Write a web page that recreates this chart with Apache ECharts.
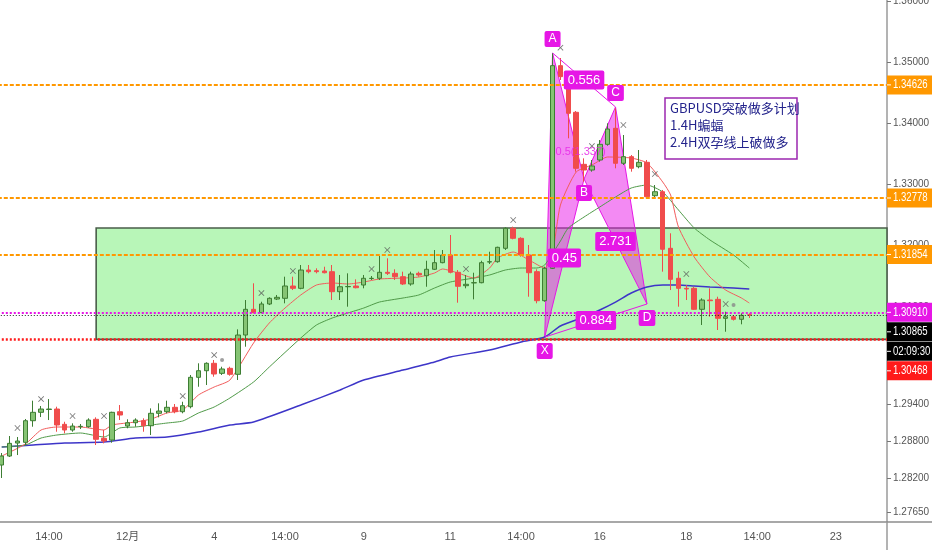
<!DOCTYPE html>
<html>
<head>
<meta charset="utf-8">
<title>GBPUSD 4H</title>
<script src="https://cdn.jsdelivr.net/npm/echarts/dist/echarts.min.js"></script>
<style>
html, body { margin: 0; padding: 0; background: #fff; }
#main { width: 932px; height: 550px; }
</style>
</head>
<body>
<div id="main"></div>
<script>
// 时间轴标签（按K线序号）
var timeTickIdx = [6, 16, 27, 36, 46, 57, 66, 76, 87, 96, 106];
var timeTickText = ['14:00', '12月', '4', '14:00', '9', '11', '14:00', '16', '18', '14:00', '23'];
var barSlots = 113;

// K线 开 收 低 高
var opens = [1.28415,1.28562,1.28774,1.28786,1.29139,1.29276,1.29322,1.29330,1.29080,1.28987,
  1.29041,1.29041,1.29162,1.28851,1.28823,1.29286,1.29052,1.29106,1.29139,1.29057,
  1.29260,1.29286,1.29358,1.29286,1.29368,1.29848,1.29956,1.30077,1.29913,1.29995,
  1.29897,1.30539,1.30959,1.30904,1.31046,1.31127,1.31139,1.31340,1.31302,1.31601,
  1.31590,1.31585,1.31574,1.31247,1.31328,1.31340,1.31356,1.31462,1.31466,1.31564,
  1.31547,1.31492,1.31373,1.31547,1.31508,1.31613,1.31721,1.31846,1.31564,1.31345,
  1.31391,1.31394,1.31732,1.31737,1.31956,1.32283,1.32119,1.31846,1.31574,1.31100,
  1.31629,1.34940,1.34788,1.34178,1.33328,1.33235,1.33399,1.33655,1.33917,1.33345,
  1.33453,1.33289,1.33361,1.32815,1.32881,1.31956,1.31466,1.31302,1.31302,1.30959,
  1.31111,1.31122,1.30812,1.30838,1.30796,1.30870];
var closes = [1.28562,1.28769,1.28807,1.29139,1.29276,1.29330,1.29330,1.29069,1.28987,1.29052,
  1.29047,1.29150,1.28835,1.28807,1.29276,1.29232,1.29106,1.29150,1.29057,1.29260,
  1.29297,1.29358,1.29286,1.29384,1.29848,1.29956,1.30077,1.29902,1.29984,1.29897,
  1.30539,1.30959,1.30904,1.31046,1.31139,1.31155,1.31340,1.31302,1.31601,1.31574,
  1.31574,1.31557,1.31247,1.31328,1.31332,1.31312,1.31466,1.31466,1.31564,1.31547,
  1.31492,1.31373,1.31536,1.31520,1.31613,1.31721,1.31846,1.31564,1.31335,1.31368,
  1.31394,1.31721,1.31737,1.31972,1.32283,1.32119,1.31846,1.31557,1.31100,1.31629,
  1.34940,1.34760,1.34162,1.33263,1.33235,1.33301,1.33655,1.33905,1.33345,1.33453,
  1.33263,1.33361,1.32799,1.32881,1.31940,1.31449,1.31302,1.31291,1.30959,1.31111,
  1.31100,1.30812,1.30838,1.30796,1.30861,1.30865];
var lows = [1.28203,1.28546,1.28578,1.28742,1.29041,1.29199,1.29150,1.28959,1.28933,1.28959,
  1.29003,1.29024,1.28742,1.28769,1.28779,1.29150,1.29015,1.29041,1.28959,1.28905,
  1.29194,1.29260,1.29260,1.29260,1.29341,1.29694,1.29722,1.29858,1.29886,1.29874,
  1.29804,1.30348,1.30894,1.30894,1.31029,1.31111,1.31057,1.31274,1.31286,1.31547,
  1.31547,1.31547,1.31111,1.31111,1.31002,1.31302,1.31302,1.31438,1.31438,1.31520,
  1.31438,1.31356,1.31345,1.31492,1.31328,1.31601,1.31711,1.31547,1.31067,1.31302,
  1.31122,1.31384,1.31699,1.31721,1.31928,1.32103,1.31819,1.31165,1.31057,1.31083,
  1.31618,1.34706,1.33753,1.33208,1.33044,1.33208,1.33371,1.33632,1.33263,1.33317,
  1.33208,1.33263,1.32773,1.32773,1.31574,1.31274,1.31002,1.31111,1.30948,1.30703,
  1.30838,1.30621,1.30593,1.30776,1.30714,1.30817];
var highs = [1.28611,1.28889,1.28873,1.29167,1.29466,1.29379,1.29493,1.29368,1.29122,1.29096,
  1.29085,1.29178,1.29194,1.28987,1.29286,1.29395,1.29162,1.29178,1.29178,1.29341,
  1.29423,1.29466,1.29412,1.29449,1.29886,1.30077,1.30093,1.30131,1.30021,1.30021,
  1.30632,1.31111,1.31384,1.31083,1.31155,1.31193,1.31492,1.31492,1.31683,1.31683,
  1.31629,1.31655,1.31683,1.31520,1.31547,1.31449,1.31520,1.31503,1.31830,1.31792,
  1.31613,1.31574,1.31574,1.31574,1.31753,1.31928,1.31928,1.32173,1.31601,1.31520,
  1.31557,1.31753,1.31900,1.31982,1.32299,1.32309,1.32136,1.32010,1.31613,1.31655,
  1.35142,1.35065,1.34815,1.34199,1.33426,1.33399,1.33725,1.33998,1.34243,1.33807,
  1.33480,1.33562,1.33399,1.32990,1.32909,1.32201,1.31574,1.31356,1.31328,1.31139,
  1.31302,1.31165,1.30920,1.30866,1.30894,1.30894];

// 均线（从图上读取的点：[序号, 价格]）
var fastMa = [[0,1.28562],[3,1.28758],[5,1.28987],[7,1.29036],[10,1.29036],[13,1.28987],[14,1.29069],
  [17,1.29118],[19,1.29167],[21,1.29265],[23,1.29314],[25,1.29559],[27,1.29690],[29,1.29804],
  [32,1.30408],[34,1.30735],[36,1.30980],[38,1.31193],[40,1.31356],[42,1.31389],[44,1.31373],
  [46,1.31405],[48,1.31454],[51,1.31470],[53,1.31487],[55,1.31552],[56,1.31618],[58,1.31552],
  [60,1.31470],[62,1.31634],[63,1.31797],[65,1.31895],[67,1.31765],[69,1.31634],[70,1.31879],
  [71,1.32663],[73,1.33203],[75,1.33317],[77,1.33448],[80,1.33431],[82,1.33350],[84,1.33039],
  [85,1.32827],[86,1.32304],[88,1.31814],[90,1.31487],[92,1.31274],[94,1.31144],[95,1.31062]];
var midMa = [[0,1.28709],[3,1.28742],[5,1.28856],[7,1.28905],[10,1.28938],[13,1.28873],[15,1.29020],
  [17,1.29036],[19,1.29069],[21,1.29101],[23,1.29134],[25,1.29265],[27,1.29363],[29,1.29510],
  [32,1.29771],[34,1.30016],[38,1.30490],[40,1.30703],[42,1.30817],[44,1.30899],[46,1.30980],
  [48,1.31078],[51,1.31144],[53,1.31193],[55,1.31307],[57,1.31405],[60,1.31470],[62,1.31520],
  [64,1.31601],[66,1.31634],[68,1.31634],[69,1.31683],[71,1.32075],[72,1.32288],[74,1.32467],
  [76,1.32631],[78,1.32794],[80,1.32941],[82,1.32990],[84,1.32876],[86,1.32582],[88,1.32288],
  [90,1.32092],[93,1.31846],[95,1.31634]];
var slowMa = [[0,1.28709],[4,1.28742],[8,1.28774],[13,1.28791],[17,1.28856],[21,1.28873],[25,1.28954],
  [29,1.29069],[32,1.29118],[38,1.29395],[43,1.29640],[46,1.29804],[51,1.29967],[55,1.30098],
  [57,1.30180],[62,1.30294],[66,1.30425],[69,1.30506],[71,1.30686],[74,1.30833],[76,1.30948],
  [78,1.31078],[80,1.31225],[82,1.31324],[84,1.31356],[86,1.31356],[88,1.31340],[90,1.31324],
  [93,1.31307],[95,1.31291]];

// 分形标记
var fractalIdx = [2, 5, 9, 13, 23, 27, 33, 37, 47, 49, 59, 65, 71, 75, 79, 83, 87, 92];
var fractalPrice = [1.29020,1.29493,1.29216,1.29216,1.29542,1.30212,1.31225,1.31585,1.31618,1.31928,
  1.31618,1.32418,1.35234,1.33627,1.33971,1.33170,1.31536,1.31046];
var dotIdx = [28, 93];
var dotPrice = [1.30131, 1.31029];

// 蝙蝠形态 XABCD
var patternNames = ['X', 'A', 'B', 'C', 'D'];
var patternIdx = [69, 70, 74, 78, 82];
var patternPrice = [1.30505, 1.35147, 1.33088, 1.34265, 1.31046];
var ratioText = ['0.45', '0.556', '2.731', '0.884']; // XB, AC, BD, XD
var patternNote = '0.5(1.337)';
var patternNoteIdx = 70;
var patternNotePrice = 1.33529;

// 水平线 / 区间
var orangeLevels = [1.34626, 1.32778, 1.31854];
var magentaLevel = 1.30910;
var lastPrice = 1.30865;
var redLevel = 1.30468;
var boxTop = 1.32288;
var boxStartIdx = 12;
var countdown = '02:09:30';

var yTicks = [1.36, 1.35, 1.34, 1.33, 1.32, 1.31, 1.294, 1.288, 1.282, 1.2765];
var yMin = 1.27484, yMax = 1.36013;

var noteLines = ['GBPUSD突破做多计划', '1.4H蝙蝠', '2.4H双孕线上破做多'];

var categories = [];
for (var i = 0; i < barSlots; i++) categories.push('');
timeTickIdx.forEach(function (idx, k) { categories[idx] = timeTickText[k]; });

var candleData = opens.map(function (o, k) { return [o, closes[k], lows[k], highs[k]]; });

var axisFont = "'Liberation Sans Narrow', 'Liberation Sans', 'Noto Sans CJK SC', sans-serif";
var pink = '#e616e6';
var pinkFill = 'rgba(232, 22, 232, 0.5)';

function showTick(idx) { return categories[idx] !== ''; }

function renderBox(params, api) {
  var a = api.coord([boxStartIdx, boxTop]);
  var b = api.coord([boxStartIdx, redLevel]);
  var right = params.coordSys.x + params.coordSys.width;
  return {
    type: 'rect',
    shape: { x: a[0], y: a[1], width: right - a[0], height: b[1] - a[1] },
    style: { fill: '#b8f6b8', stroke: '#4a5e4a', lineWidth: 1.6 }
  };
}

function patternPoints(api) {
  return patternIdx.map(function (idx, k) { return api.coord([idx, patternPrice[k]]); });
}

function renderPatternFill(params, api) {
  var p = patternPoints(api);
  return {
    type: 'group',
    children: [
      { type: 'polygon', shape: { points: [p[0], p[1], p[2]] }, style: { fill: pinkFill, stroke: pink, lineWidth: 1 } },
      { type: 'polygon', shape: { points: [p[2], p[3], p[4]] }, style: { fill: pinkFill, stroke: pink, lineWidth: 1 } }
    ]
  };
}

function mid(p, q) { return [(p[0] + q[0]) / 2, (p[1] + q[1]) / 2]; }

function tagText(text, pos, fontSize, pad) {
  return {
    type: 'text',
    style: {
      text: text, x: pos[0], y: pos[1], align: 'center', verticalAlign: 'middle',
      fill: '#fff', font: fontSize + 'px ' + axisFont,
      backgroundColor: pink, padding: pad, borderRadius: 2
    }
  };
}

function renderPatternMarks(params, api) {
  var p = patternPoints(api);
  var children = [
    { type: 'line', shape: { x1: p[1][0], y1: p[1][1], x2: p[3][0], y2: p[3][1] }, style: { stroke: pink, lineWidth: 1 } },
    { type: 'line', shape: { x1: p[0][0], y1: p[0][1], x2: p[4][0], y2: p[4][1] }, style: { stroke: pink, lineWidth: 1 } }
  ];
  var n = api.coord([patternNoteIdx, patternNotePrice]);
  children.push({
    type: 'text',
    style: { text: patternNote, x: n[0] + 3, y: n[1], verticalAlign: 'middle', fill: 'rgba(230,40,230,0.85)', font: '11px ' + axisFont }
  });
  var segs = [[0, 2], [1, 3], [2, 4], [0, 4]];
  segs.forEach(function (s, k) {
    children.push(tagText(ratioText[k], mid(p[s[0]], p[s[1]]), 13, [3, 4]));
  });
  var side = [1, -1, 1, -1, 1];
  patternNames.forEach(function (name, k) {
    children.push(tagText(name, [p[k][0], p[k][1] + side[k] * 14], 12, [2, 4]));
  });
  return { type: 'group', children: children };
}

var xShape = 'path://M0,1 L1,0 L5,4 L9,0 L10,1 L6,5 L10,9 L9,10 L5,6 L1,10 L0,9 L4,5 Z';

var levelLines = orangeLevels.map(function (v) {
  return { yAxis: v, lineStyle: { color: '#ff9800', type: [4, 2], width: 2 } };
});
levelLines.push({ yAxis: magentaLevel, lineStyle: { color: pink, type: [2, 2], width: 2 } });
levelLines.push({ yAxis: lastPrice, lineStyle: { color: '#222', type: [1, 2], width: 1 } });
levelLines.push({ yAxis: redLevel, lineStyle: { color: '#ff1a1a', type: [2, 2], width: 2.5 } });

var chart = echarts.init(document.getElementById('main'));

var option = {
  animation: false,
  backgroundColor: '#ffffff',
  grid: { left: -2.2, right: 45, top: 0, bottom: 28, containLabel: false, outerBoundsMode: 'none' },
  xAxis: {
    type: 'category',
    data: categories,
    boundaryGap: true,
    axisLine: { lineStyle: { color: '#8c8c8c', width: 1.5 } },
    axisTick: { alignWithLabel: true, interval: showTick, length: 4, lineStyle: { color: '#8c8c8c' } },
    axisLabel: { interval: showTick, color: '#555', fontSize: 11, margin: 9, fontFamily: axisFont },
    splitLine: { show: false }
  },
  yAxis: {
    type: 'value',
    position: 'right',
    min: yMin,
    max: yMax,
    axisLine: { show: true, lineStyle: { color: '#9a9a9a', width: 1.5 } },
    axisTick: { show: true, customValues: yTicks, length: 4, lineStyle: { color: '#777' } },
    axisLabel: {
      customValues: yTicks, color: '#555', fontSize: 10, margin: 6, fontFamily: axisFont,
      formatter: function (v) { return v.toFixed(5); }
    },
    splitLine: { show: false }
  },
  series: [
    { type: 'custom', name: 'box', z: 1, silent: true, clip: false, renderItem: renderBox, data: [[boxStartIdx, boxTop]] },
    { type: 'custom', name: 'batFill', z: 2, silent: true, clip: false, renderItem: renderPatternFill, data: [[patternIdx[0], patternPrice[0]]] },
    { type: 'line', name: 'MA slow', z: 3, data: slowMa, showSymbol: false, smooth: 0.2, lineStyle: { color: '#3d35c8', width: 1.5 } },
    { type: 'line', name: 'MA mid', z: 3, data: midMa, showSymbol: false, smooth: 0.2, lineStyle: { color: '#4f9a48', width: 1 } },
    { type: 'line', name: 'MA fast', z: 3, data: fastMa, showSymbol: false, smooth: 0.2, lineStyle: { color: '#f25c5c', width: 1 } },
    {
      type: 'candlestick', name: 'GBPUSD', z: 4, data: candleData, barWidth: 5,
      itemStyle: { color: '#86c474', borderColor: '#3d7d33', color0: '#f04c4c', borderColor0: '#f04c4c', borderWidth: 1 },
      markLine: { silent: true, symbol: 'none', precision: 5, label: { show: false }, data: levelLines }
    },
    {
      type: 'scatter', name: 'fractal', z: 5, symbol: xShape, symbolSize: 6,
      itemStyle: { color: '#555' },
      data: fractalIdx.map(function (idx, k) { return [idx, fractalPrice[k]]; })
    },
    {
      type: 'scatter', name: 'dot', z: 5, symbol: 'circle', symbolSize: 4,
      itemStyle: { color: '#888' },
      data: dotIdx.map(function (idx, k) { return [idx, dotPrice[k]]; })
    },
    { type: 'custom', name: 'batMarks', z: 6, silent: true, clip: false, renderItem: renderPatternMarks, data: [[patternIdx[0], patternPrice[0]]] }
  ]
};

chart.setOption(option);

// 右侧价格标签
function priceTag(text, bg, y) {
  return {
    type: 'group', x: 887, y: y - 9.5,
    children: [
      { type: 'rect', z: 100, shape: { x: 0, y: 0, width: 45, height: 19 }, style: { fill: bg } },
      { type: 'line', z: 101, shape: { x1: 0, y1: 9.5, x2: 4, y2: 9.5 }, style: { stroke: '#fff', lineWidth: 1 } },
      { type: 'text', z: 101, x: 6, y: 9.5, scaleX: 0.8, style: { text: text, x: 0, y: 0, verticalAlign: 'middle', fill: '#fff', font: '12px ' + axisFont } }
    ]
  };
}

var tags = [];
orangeLevels.forEach(function (v) { tags.push([v, v.toFixed(5), '#ff9800']); });
tags.push([magentaLevel, magentaLevel.toFixed(5), pink]);
tags.push([lastPrice, lastPrice.toFixed(5), '#000']);
tags.push([null, countdown, '#000']);
tags.push([redLevel, redLevel.toFixed(5), '#ff1a1a']);

var graphics = [];
var prevY = -100;
tags.forEach(function (t) {
  var y = t[0] === null ? prevY + 19.5 : chart.convertToPixel({ yAxisIndex: 0 }, t[0]);
  if (y < prevY + 19.5) y = prevY + 19.5;
  graphics.push(priceTag(t[1], t[2], y));
  prevY = y;
});

var bottomY = chart.getHeight() - 28;
graphics.push({ type: 'line', z: 90, shape: { x1: 887, y1: bottomY, x2: 932, y2: bottomY }, style: { stroke: '#8c8c8c', lineWidth: 1.5 } });
graphics.push({ type: 'line', z: 90, shape: { x1: 887, y1: bottomY, x2: 887, y2: 550 }, style: { stroke: '#9a9a9a', lineWidth: 1.5 } });

// 文字注释框
graphics.push({
  type: 'group', x: 665, y: 98,
  children: [
    { type: 'rect', z: 110, shape: { x: 0, y: 0, width: 132, height: 61 }, style: { fill: '#fff', stroke: '#9c27b0', lineWidth: 1.5 } },
    { type: 'text', z: 111, style: { text: noteLines.join('\n'), x: 5, y: 2, lineHeight: 17, fill: '#24248c', font: "13px 'Noto Sans CJK SC', sans-serif" } }
  ]
});

chart.setOption({ graphic: graphics });

window.onresize = function () { chart.resize(); };
</script>
</body>
</html>
